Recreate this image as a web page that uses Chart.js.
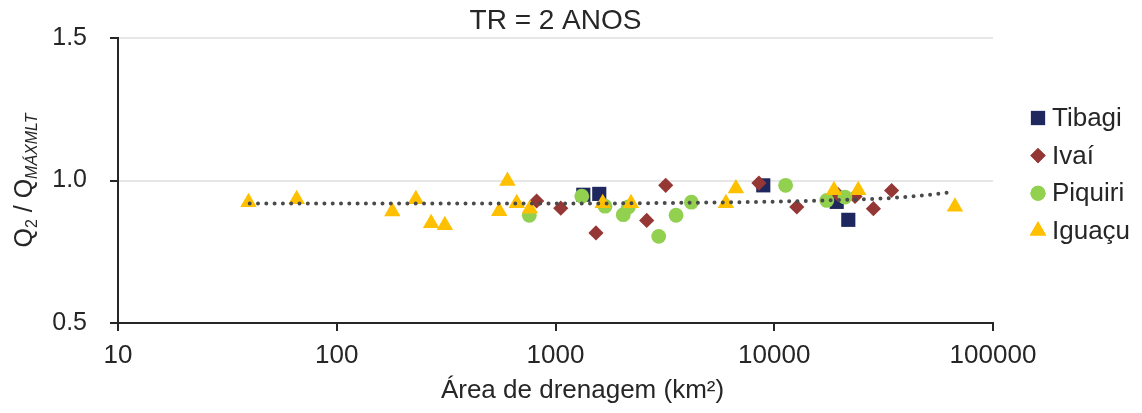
<!DOCTYPE html>
<html>
<head>
<meta charset="utf-8">
<script src="https://cdn.jsdelivr.net/npm/chart.js@4/dist/chart.umd.min.js"></script>
<style>
  html, body { margin: 0; padding: 0; background: #fff; }
  canvas { display: block; }
</style>
</head>
<body>
<canvas id="chart" width="1142" height="413"></canvas>
<script>
// drainage area (km²) and Q2 / Qmaxmlt ratio per basin
const tibagiArea = [1340, 1585, 8910, 19300, 21800]
const tibagiRatio = [0.950, 0.953, 0.983, 0.925, 0.862]

const ivaiArea = [820, 1057, 1531, 2612, 3190, 8510, 12680, 19540, 23400, 28400, 34400]
const ivaiRatio = [0.928, 0.903, 0.816, 0.860, 0.983, 0.991, 0.907, 0.951, 0.944, 0.901, 0.965]

const piquiriArea = [759, 1319, 1684, 2041, 2153, 2964, 3557, 4180, 11270, 17380, 21040]
const piquiriRatio = [0.878, 0.945, 0.910, 0.880, 0.907, 0.804, 0.878, 0.924, 0.983, 0.930, 0.942]

const iguacuArea = [39.5, 65.6, 179.5, 230, 270, 312, 553, 603, 665, 764, 1644, 2213, 6012, 6680, 18750, 24200, 67000]
const iguacuRatio = [0.924, 0.934, 0.891, 0.934, 0.850, 0.843, 0.892, 0.998, 0.920, 0.901, 0.920, 0.920, 0.920, 0.972, 0.966, 0.966, 0.908]

// trend line (all basins)
const trendArea = [40, 1000, 7200, 12100, 17400, 26800, 31600, 44000, 51500, 61000, 66000]
const trendRatio = [0.919, 0.919, 0.924, 0.927, 0.930, 0.935, 0.937, 0.945, 0.950, 0.957, 0.959]

const xTicks = [10, 100, 1000, 10000, 100000]
const yTicks = [0.5, 1.0, 1.5]

const FONT = "'Liberation Sans', Arial, sans-serif"
const TEXT = '#262626'
const AXIS = '#262626'

function pts(xs, ys) {
  return xs.map((x, i) => ({ x: x, y: ys[i] }))
}

const series = [
  { label: 'Tibagi', data: pts(tibagiArea, tibagiRatio), color: '#1f285e', style: 'rect', r: 10 },
  { label: 'Ivaí', data: pts(ivaiArea, ivaiRatio), color: '#953735', style: 'rectRot', r: 7.6 },
  { label: 'Piquiri', data: pts(piquiriArea, piquiriRatio), color: '#92d050', style: 'circle', r: 7.4 },
  { label: 'Iguaçu', data: pts(iguacuArea, iguacuRatio), color: '#ffc000', style: 'triangle', r: 9.5 }
]

const datasets = series.map((s, i) => ({
  label: s.label,
  data: s.data,
  pointStyle: s.style,
  pointRadius: s.r,
  pointHoverRadius: s.r,
  pointBackgroundColor: s.color,
  pointBorderWidth: 0,
  backgroundColor: s.color,
  borderColor: s.color,
  order: 4 - i
}))

datasets.push({
  label: 'trend',
  data: pts(trendArea, trendRatio),
  showLine: true,
  pointRadius: 0,
  borderColor: '#4a4a4a',
  borderWidth: 4,
  borderDash: [0, 8.3],
  borderCapStyle: 'round',
  cubicInterpolationMode: 'monotone',
  order: 0
})

// y title with subscripts, x title and legend are drawn here
const extras = {
  id: 'extras',
  afterDraw(chart) {
    const ctx = chart.ctx
    const a = chart.chartArea
    ctx.save()
    ctx.fillStyle = TEXT

    // Q2 / QMÁXMLT, rotated
    const parts = [
      { t: 'Q', f: '25px ' + FONT, dy: 0 },
      { t: '2', f: '16px ' + FONT, dy: 5 },
      { t: ' / Q', f: '25px ' + FONT, dy: 0 },
      { t: 'MÁXMLT', f: 'italic 16px ' + FONT, dy: 5 }
    ]
    let total = 0
    parts.forEach(p => { ctx.font = p.f; p.w = ctx.measureText(p.t).width; total += p.w })
    ctx.save()
    ctx.translate(32, (a.top + a.bottom) / 2)
    ctx.rotate(-Math.PI / 2)
    ctx.textBaseline = 'alphabetic'
    ctx.textAlign = 'left'
    let x = -total / 2
    parts.forEach(p => {
      ctx.font = p.f
      ctx.fillText(p.t, x, p.dy)
      x += p.w
    })
    ctx.restore()

    // x title
    ctx.font = '26px ' + FONT
    ctx.textAlign = 'center'
    ctx.textBaseline = 'alphabetic'
    ctx.fillText('Área de drenagem (km²)', (a.left + a.right) / 2 + 27, a.bottom + 75)

    // legend
    const step = 37.6
    const y0 = a.top + 80
    series.forEach((s, i) => {
      const y = y0 + i * step
      ctx.fillStyle = s.color
      Chart.helpers.drawPoint(ctx, { pointStyle: s.style, radius: s.style === 'circle' ? 7.5 : s.r, rotation: 0, borderWidth: 0 }, a.right + 45, y)
      ctx.fill()
      ctx.fillStyle = TEXT
      ctx.font = '26px ' + FONT
      ctx.textAlign = 'left'
      ctx.textBaseline = 'middle'
      ctx.fillText(s.label, a.right + 59, y + 1)
    })
    ctx.restore()
  }
}

new Chart(document.getElementById('chart'), {
  type: 'scatter',
  data: { datasets: datasets },
  plugins: [extras],
  options: {
    responsive: false,
    animation: false,
    layout: { padding: { left: 0, right: 149, top: 0, bottom: 0 } },
    plugins: {
      legend: { display: false },
      tooltip: { enabled: false },
      title: {
        display: true,
        text: 'TR = 2 ANOS',
        color: TEXT,
        fullSize: false,
        font: { family: FONT, size: 28, weight: 'normal' },
        padding: { top: 4, bottom: 0 }
      }
    },
    scales: {
      x: {
        type: 'logarithmic',
        min: 10,
        max: 100000,
        afterBuildTicks(scale) {
          scale.ticks = xTicks.map(v => ({ value: v }))
        },
        afterFit(scale) { scale.height = 90 },
        ticks: {
          color: TEXT,
          font: { family: FONT, size: 26 },
          padding: 9,
          maxRotation: 0,
          autoSkip: false,
          callback: v => String(v)
        },
        grid: { drawOnChartArea: false, tickColor: AXIS, tickLength: 8, lineWidth: 2 },
        border: { color: AXIS, width: 2 }
      },
      y: {
        min: 0.5,
        max: 1.5,
        afterBuildTicks(scale) {
          scale.ticks = yTicks.map(v => ({ value: v }))
        },
        afterFit(scale) { scale.width = 118 },
        ticks: {
          color: TEXT,
          font: { family: FONT, size: 25 },
          padding: 23,
          callback: v => v.toFixed(1)
        },
        grid: { color: '#e6e6e6', tickColor: AXIS, tickLength: 8, lineWidth: 2 },
        border: { color: AXIS, width: 2 }
      }
    }
  }
})
</script>
</body>
</html>
